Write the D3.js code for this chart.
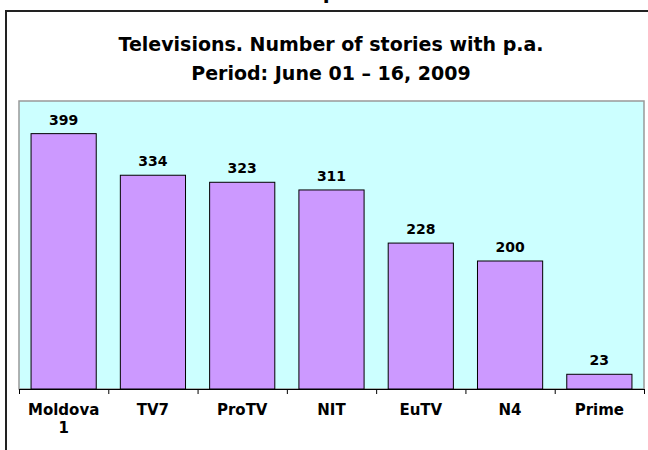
<!DOCTYPE html>
<html lang="en">
<head>
<meta charset="UTF-8">
<script src="https://d3js.org/d3.v7.min.js"></script>
<style>
body {margin: 0; background: white;}
svg {display: block;}
text {font-family: "DejaVu Sans", Verdana, sans-serif; font-weight: bold; fill: black;}
</style>
</head>
<body>
<svg width="648" height="450"></svg>
<script>
// chart data
var channels = ["Moldova 1", "TV7", "ProTV", "NIT", "EuTV", "N4", "Prime"];
var stories = [399, 334, 323, 311, 228, 200, 23];
var titleLines = ["Televisions. Number of stories with p.a.", "Period: June 01 \u2013 16, 2009"];

var svg = d3.select("svg");

var plotL = 19, plotR = 644, plotT = 101, plotB = 389;

// outer frame (only top and left edges show in the crop)
svg.append("path")
    .attr("d", "M6,450 V11 H648")
    .attr("fill", "none")
    .attr("stroke", "#222")
    .attr("stroke-width", 2);

// bit of text cut off at the top
svg.append("text")
    .attr("x", 330)
    .attr("y", -1)
    .attr("text-anchor", "middle")
    .style("font-size", "20px")
    .text("p");

// title
svg.selectAll(".title")
    .data(titleLines)
    .enter()
    .append("text")
    .attr("class", "title")
    .attr("x", 331)
    .attr("y", function(d, i) { return 51 + i * 29; })
    .attr("text-anchor", "middle")
    .style("font-size", "19px")
    .text(function(d) { return d; });

// plot area
svg.append("rect")
    .attr("x", plotL)
    .attr("y", plotT)
    .attr("width", plotR - plotL)
    .attr("height", plotB - plotT)
    .attr("fill", "#CCFFFF")
    .attr("stroke", "#999")
    .attr("stroke-width", 1.5);

var xs = d3.scaleBand().domain(channels).range([plotL, plotR]).padding(0);
var ys = d3.scaleLinear().domain([0, 450]).range([plotB, plotT]);
var barW = xs.bandwidth() * 0.73;

svg.append("g")
    .selectAll("rect")
    .data(channels)
    .enter()
    .append("rect")
    .attr("x", function(d) { return xs(d) + (xs.bandwidth() - barW) / 2; })
    .attr("y", function(d, i) { return ys(stories[i]); })
    .attr("width", barW)
    .attr("height", function(d, i) { return ys(0) - ys(stories[i]); })
    .attr("fill", "#CC99FF")
    .attr("stroke", "black")
    .attr("stroke-width", 1);

// value labels
svg.append("g")
    .selectAll("text")
    .data(channels)
    .enter()
    .append("text")
    .attr("x", function(d) { return xs(d) + xs.bandwidth() / 2; })
    .attr("y", function(d, i) { return ys(stories[i]) - 9; })
    .attr("text-anchor", "middle")
    .style("font-size", "14px")
    .text(function(d, i) { return stories[i]; });

// x axis: ticks sit on the band boundaries
var xt = d3.scaleLinear().domain([0, channels.length]).range([plotL, plotR]);
var axis = svg.append("g")
    .attr("transform", "translate(0," + plotB + ")")
    .call(d3.axisBottom(xt)
        .tickValues(d3.range(channels.length + 1))
        .tickSize(5)
        .tickSizeOuter(0)
        .tickFormat(""));
axis.select(".domain").attr("stroke", "black");
axis.selectAll(".tick line").attr("stroke", "black");

// category labels, wrapped on spaces like "Moldova / 1"
var cats = svg.append("g")
    .selectAll("text")
    .data(channels)
    .enter()
    .append("text")
    .attr("x", function(d) { return xs(d) + xs.bandwidth() / 2; })
    .attr("y", 415)
    .attr("text-anchor", "middle")
    .style("font-size", "15px");
cats.selectAll("tspan")
    .data(function(d) { return d.split(" "); })
    .enter()
    .append("tspan")
    .attr("x", function() { return d3.select(this.parentNode).attr("x"); })
    .attr("dy", function(d, i) { return i ? 18 : 0; })
    .text(function(d) { return d; });
</script>
</body>
</html>
